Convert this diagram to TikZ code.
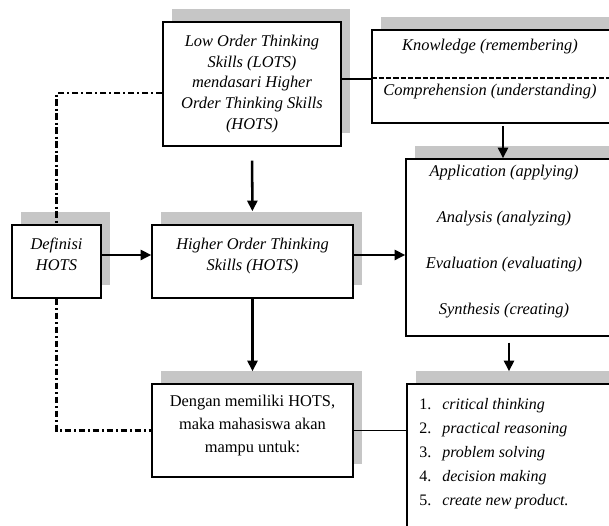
\documentclass[tikz,border=0pt]{standalone}
\usepackage{fontspec}
\setmainfont{Liberation Serif}
\usetikzlibrary{arrows.meta,shadows}
\begin{document}
\begin{tikzpicture}[x=0.75pt,y=-0.75pt,
  box/.style={draw, line width=1.1pt, fill=white, inner sep=2pt, align=center,
    drop shadow={shadow xshift=6.75pt, shadow yshift=9.75pt, fill=gray!45, opacity=1}},
  it/.style={font=\fontsize{12.3}{15.5}\selectfont\itshape},
  arr/.style={line width=1.9pt, -{Triangle[length=8pt,width=7.5pt]}},
  conn/.style={line width=0.9pt},
  dd/.style={line width=1.9pt, dash pattern=on 5pt off 2pt on 1.5pt off 2pt},
  kdash/.style={line width=1.7pt, dash pattern=on 4pt off 1.5pt}]
\useasboundingbox (0,0) rectangle (609,525);
\clip (0,0) rectangle (609,525);
% boxes
\node[box, it, minimum width=133.5pt, minimum height=93pt] (lots) at (252,84)
  {Low Order Thinking\\ Skills (LOTS)\\ mendasari Higher\\ Order Thinking Skills\\ (HOTS)};
\node[box, minimum width=196.5pt, minimum height=69.75pt] (kbox) at (503,76.5) {};
\node[it] (know) at (490,47) {Knowledge (remembering)};
\node[it] (comp) at (490,92) {Comprehension (understanding)};
\node[box, minimum width=154.5pt, minimum height=132.75pt] (appl) at (509,247.5) {};
\node[it, align=center] (appltext) at (504,241.5)
  {Application (applying)\\[19pt] Analysis (analyzing)\\[19pt] Evaluation (evaluating)\\[19pt] Synthesis (creating)};
\node[box, font=\fontsize{12.3}{16}\selectfont\itshape, minimum width=66.75pt, minimum height=54.75pt, text depth=11pt] (def) at (56.5,261.5)
  {Definisi\\ HOTS};
\node[box, font=\fontsize{12.3}{16}\selectfont\itshape, minimum width=150.75pt, minimum height=54.75pt, text depth=11pt] (hots) at (252.5,261.5)
  {Higher Order Thinking\\ Skills (HOTS)};
\node[box, font=\fontsize{12.3}{17}\selectfont, minimum width=150.75pt, minimum height=69.75pt, text depth=10pt] (deng) at (252.5,430.5)
  {Dengan memiliki HOTS,\\ maka mahasiswa akan\\ mampu untuk:};
\node[box, minimum width=153.75pt, minimum height=120.75pt] (list) at (509.5,464.5) {};
\node[anchor=west, inner sep=0pt, align=left, font=\fontsize{12}{18}\selectfont] (listtext) at (419,454)
  {\makebox[17.25pt][l]{1.}\textit{critical thinking}\\
   \makebox[17.25pt][l]{2.}\textit{practical reasoning}\\
   \makebox[17.25pt][l]{3.}\textit{problem solving}\\
   \makebox[17.25pt][l]{4.}\textit{decision making}\\
   \makebox[17.25pt][l]{5.}\textit{create new product.}};
% connectors
\draw[arr, shorten <=10.5pt, shorten >=9.75pt] (lots.south) -- (hots.north);
\draw[arr] ([yshift=4.9pt]def.east) -- ([yshift=4.9pt]hots.west);
\draw[arr] ([yshift=4.9pt]hots.east) -- ([yshift=4.9pt]hots.east -| appl.west);
\draw[arr, shorten >=9pt] (hots.south) -- (deng.north);
\draw[arr, shorten <=2pt] (kbox.south) -- (kbox.south |- appl.north);
\draw[arr, shorten <=4.5pt, shorten >=9pt] (appl.south) -- (appl.south |- list.north);
\draw[conn] ([yshift=3.75pt]lots.east) -- ([yshift=3.75pt]lots.east -| kbox.west);
\draw[conn] (deng.east) -- (deng.east -| list.west);
\draw[kdash] ([yshift=-1.1pt]kbox.west) -- ([yshift=-1.1pt]kbox.east);
\draw[dd] ([yshift=-6.75pt]lots.west) -| (def.north);
\draw[dd] (def.south) |- (deng.west);
\end{tikzpicture}
\end{document}
